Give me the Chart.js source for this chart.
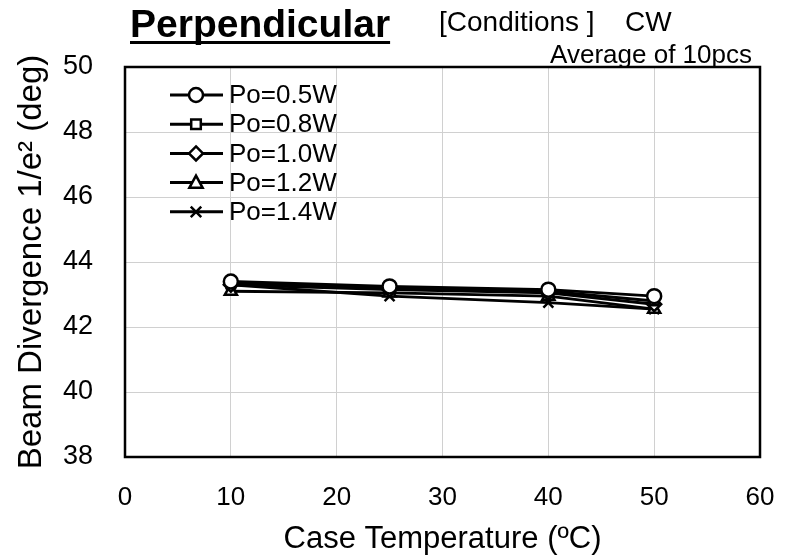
<!DOCTYPE html>
<html>
<head>
<meta charset="utf-8">
<script src="https://cdn.jsdelivr.net/npm/chart.js@4/dist/chart.umd.min.js"></script>
<style>
html,body{margin:0;padding:0;background:#fff;}
#wrap{width:795px;height:559px;position:relative;}
</style>
</head>
<body>
<div id="wrap"><canvas id="c"></canvas></div>
<script>
// ---- data ----
const temperatures = [10, 25, 40, 50];
const seriesNames = ['Po=0.5W', 'Po=0.8W', 'Po=1.0W', 'Po=1.2W', 'Po=1.4W'];
const po05 = [43.4, 43.25, 43.15, 42.95];
const po08 = [43.35, 43.2, 43.1, 42.8];
const po10 = [43.3, 43.15, 43.05, 42.7];
const po12 = [43.1, 43.05, 42.95, 42.55];
const po14 = [43.3, 42.95, 42.75, 42.55];
const xTicks = [0, 10, 20, 30, 40, 50, 60];
const yTicks = [38, 40, 42, 44, 46, 48, 50];
const titleText = 'Perpendicular';
const conditionsLabel = '[Conditions ]';
const conditionsValue = 'CW';
const subText = 'Average of 10pcs';
const xTitle = 'Case Temperature (ºC)';
const yTitle = 'Beam Divergence 1/e² (deg)';

const seriesValues = [po05, po08, po10, po12, po14];
const markers = ['circle', 'rect', 'rectRot', 'triangle', 'crossRot'];
const markerRadius = [7, 6, 7, 7, 7];

const FONT = 'Arial, "Liberation Sans", sans-serif';

const datasets = seriesValues.map((vals, i) => ({
  label: seriesNames[i],
  data: temperatures.map((t, j) => ({x: t, y: vals[j]})),
  borderColor: '#000',
  backgroundColor: '#fff',
  borderWidth: 3,
  pointStyle: markers[i],
  pointRadius: markerRadius[i],
  pointBorderWidth: 2.5,
  pointBackgroundColor: '#fff',
  pointBorderColor: '#000',
  tension: 0,
  fill: false
}));

function drawMarker(ctx, style, x, y, r) {
  ctx.save();
  ctx.fillStyle = '#fff';
  ctx.strokeStyle = '#000';
  ctx.lineWidth = 2.5;
  ctx.beginPath();
  if (style === 'circle') {
    ctx.arc(x, y, r, 0, Math.PI * 2);
    ctx.fill(); ctx.stroke();
  } else if (style === 'rect') {
    ctx.rect(x - r * 0.8, y - r * 0.8, r * 1.6, r * 1.6);
    ctx.fill(); ctx.stroke();
  } else if (style === 'rectRot') {
    ctx.moveTo(x, y - r); ctx.lineTo(x + r, y); ctx.lineTo(x, y + r); ctx.lineTo(x - r, y); ctx.closePath();
    ctx.fill(); ctx.stroke();
  } else if (style === 'triangle') {
    ctx.moveTo(x, y - r); ctx.lineTo(x + r * 0.95, y + r * 0.75); ctx.lineTo(x - r * 0.95, y + r * 0.75); ctx.closePath();
    ctx.fill(); ctx.stroke();
  } else if (style === 'crossRot') {
    const d = r * 0.75;
    ctx.moveTo(x - d, y - d); ctx.lineTo(x + d, y + d);
    ctx.moveTo(x + d, y - d); ctx.lineTo(x - d, y + d);
    ctx.stroke();
  }
  ctx.restore();
}

const decorPlugin = {
  id: 'decor',
  afterDatasetsDraw(chart) {
    const ctx = chart.ctx;
    const a = chart.chartArea;
    ctx.save();
    // plot frame
    ctx.strokeStyle = '#000';
    ctx.lineWidth = 2.5;
    ctx.strokeRect(a.left, a.top, a.right - a.left, a.bottom - a.top);

    // legend inside plot
    const lx = a.left + 45, ly = a.top + 28, step = 29.2;
    ctx.font = '26px ' + FONT;
    ctx.textBaseline = 'middle';
    ctx.textAlign = 'left';
    ctx.fillStyle = '#000';
    chart.data.datasets.forEach((ds, i) => {
      const y = ly + i * step;
      ctx.strokeStyle = '#000';
      ctx.lineWidth = 3;
      ctx.beginPath();
      ctx.moveTo(lx, y); ctx.lineTo(lx + 53, y);
      ctx.stroke();
      drawMarker(ctx, markers[i], lx + 26, y, markerRadius[i]);
      ctx.fillStyle = '#000';
      ctx.fillText(ds.label, lx + 59, y + 1);
    });

    // header texts
    ctx.textBaseline = 'alphabetic';
    ctx.font = 'bold 39px ' + FONT;
    ctx.fillText(titleText, 130, 37);
    const tw = ctx.measureText(titleText).width;
    ctx.fillRect(130, 41, tw, 3);
    ctx.font = '28px ' + FONT;
    ctx.fillText(conditionsLabel, 439, 31);
    ctx.fillText(conditionsValue, 625, 31);
    ctx.font = '26px ' + FONT;
    ctx.textAlign = 'right';
    ctx.fillText(subText, 752, 63);
    ctx.restore();
  }
};

new Chart(document.getElementById('c'), {
  type: 'line',
  data: { datasets },
  options: {
    responsive: true,
    maintainAspectRatio: false,
    animation: false,
    devicePixelRatio: 1,
    layout: { padding: { top: 67, right: 35, left: 0, bottom: 0 } },
    plugins: {
      legend: { display: false },
      tooltip: { enabled: false },
      title: { display: false }
    },
    scales: {
      x: {
        type: 'linear',
        min: 0, max: 60,
        afterBuildTicks: (s) => { s.ticks = xTicks.map(v => ({value: v})); },
        afterFit: (s) => { s.height = 102; s.paddingRight = 0; s.paddingLeft = 0; },
        ticks: { color: '#000', font: { size: 26, family: FONT }, padding: 25, maxRotation: 0 },
        grid: { color: '#d0d0d0', lineWidth: 1, drawTicks: false },
        border: { display: false },
        title: { display: true, text: xTitle, color: '#000', font: { size: 31, family: FONT }, padding: { top: 0, bottom: 1 } }
      },
      y: {
        type: 'linear',
        min: 38, max: 50,
        afterBuildTicks: (s) => { s.ticks = yTicks.map(v => ({value: v})); },
        afterFit: (s) => { s.width = 125; s.paddingTop = 0; s.paddingBottom = 0; },
        ticks: { color: '#000', font: { size: 27, family: FONT }, padding: 32 },
        grid: { color: '#d0d0d0', lineWidth: 1, drawTicks: false },
        border: { display: false },
        title: { display: true, text: yTitle, color: '#000', font: { size: 33, family: FONT }, padding: { top: 12, bottom: 0 } }
      }
    }
  },
  plugins: [decorPlugin]
});
</script>
</body>
</html>
